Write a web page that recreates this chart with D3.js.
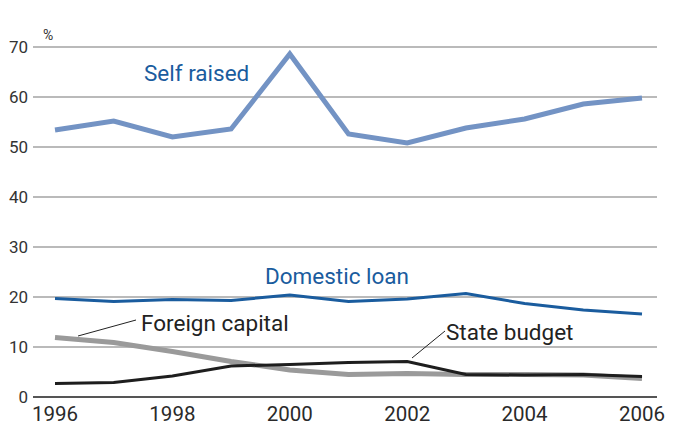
<!DOCTYPE html>
<html>
<head>
<meta charset="utf-8">
<script src="https://cdn.jsdelivr.net/npm/d3@7"></script>
<style>
  body { margin: 0; background: #fff; }
  svg text { font-family: Roboto, "Open Sans", sans-serif; }
</style>
</head>
<body>
<div id="chart-container"></div>
<script>
// data
const years = [1996, 1997, 1998, 1999, 2000, 2001, 2002, 2003, 2004, 2005, 2006];
const selfRaised = [53.4, 55.2, 52.0, 53.6, 68.6, 52.6, 50.8, 53.8, 55.6, 58.6, 59.8];
const domesticLoan = [19.7, 19.1, 19.5, 19.3, 20.4, 19.1, 19.6, 20.7, 18.7, 17.4, 16.6];
const foreignCapital = [11.9, 10.9, 9.1, 7.1, 5.4, 4.5, 4.7, 4.5, 4.5, 4.4, 3.7];
const stateBudget = [2.7, 2.9, 4.2, 6.2, 6.5, 6.9, 7.1, 4.5, 4.4, 4.5, 4.1];
const yTicks = [0, 10, 20, 30, 40, 50, 60, 70];
const xTicks = [1996, 1998, 2000, 2002, 2004, 2006];

const W = 684, H = 424;

const svg = d3.select("#chart-container")
  .append("svg")
    .attr("width", W)
    .attr("height", H);

const x = d3.scaleLinear().domain([1996, 2006]).range([55, 642]);
const y = d3.scaleLinear().domain([0, 70]).range([397, 47]);

// title, mostly cut off by the top edge
svg.append("text")
  .attr("x", 78).attr("y", -0.5)
  .attr("font-size", 20)
  .attr("fill", "#a8c8e8")
  .text("Sources of fixed asset investment funds");

// gridlines
svg.append("g")
  .selectAll("line")
  .data(yTicks.filter(d => d > 0))
  .join("line")
    .attr("x1", 33).attr("x2", 657)
    .attr("y1", d => y(d)).attr("y2", d => y(d))
    .attr("stroke", "#a3a3a3")
    .attr("stroke-width", 1.5);

svg.append("line")
  .attr("x1", 33).attr("x2", 657)
  .attr("y1", y(0)).attr("y2", y(0))
  .attr("stroke", "#555")
  .attr("stroke-width", 2);

// y tick labels
svg.append("g")
  .selectAll("text")
  .data(yTicks)
  .join("text")
    .attr("x", 28)
    .attr("y", d => y(d) + 6)
    .attr("text-anchor", "end")
    .attr("font-size", 17)
    .attr("fill", "#333")
    .text(d => d);

svg.append("text")
  .attr("x", 43).attr("y", 40)
  .attr("font-size", 14)
  .attr("fill", "#333")
  .text("%");

// x tick labels
svg.append("g")
  .selectAll("text")
  .data(xTicks)
  .join("text")
    .attr("x", d => x(d))
    .attr("y", 421)
    .attr("text-anchor", "middle")
    .attr("font-size", 20.5)
    .attr("fill", "#2a2a2a")
    .text(d => d);

const line = d3.line()
  .x((d, i) => x(years[i]))
  .y(d => y(d));

const series = [
  { values: foreignCapital, color: "#9a9a9a", w: 5 },
  { values: stateBudget, color: "#1e1e1e", w: 3 },
  { values: domesticLoan, color: "#1a5c9e", w: 3 },
  { values: selfRaised, color: "#7393c4", w: 5 }
];

series.forEach(s => {
  svg.append("path")
    .datum(s.values)
    .attr("fill", "none")
    .attr("stroke", s.color)
    .attr("stroke-width", s.w)
    .attr("stroke-linejoin", "miter")
    .attr("d", line);
});

// labels
svg.append("text")
  .attr("x", 144).attr("y", 81)
  .attr("font-size", 22.5)
  .attr("fill", "#1a5c9e")
  .text("Self raised");

svg.append("text")
  .attr("x", 265).attr("y", 284)
  .attr("font-size", 22.5)
  .attr("fill", "#1a5c9e")
  .text("Domestic loan");

svg.append("text")
  .attr("x", 141).attr("y", 331)
  .attr("font-size", 22.5)
  .attr("fill", "#222")
  .text("Foreign capital");

svg.append("line")
  .attr("x1", 78).attr("y1", 336)
  .attr("x2", 136).attr("y2", 320)
  .attr("stroke", "#222").attr("stroke-width", 1);

svg.append("text")
  .attr("x", 446).attr("y", 340)
  .attr("font-size", 22.5)
  .attr("fill", "#222")
  .text("State budget");

svg.append("line")
  .attr("x1", 412).attr("y1", 358)
  .attr("x2", 445).attr("y2", 331)
  .attr("stroke", "#222").attr("stroke-width", 1);
</script>
</body>
</html>
